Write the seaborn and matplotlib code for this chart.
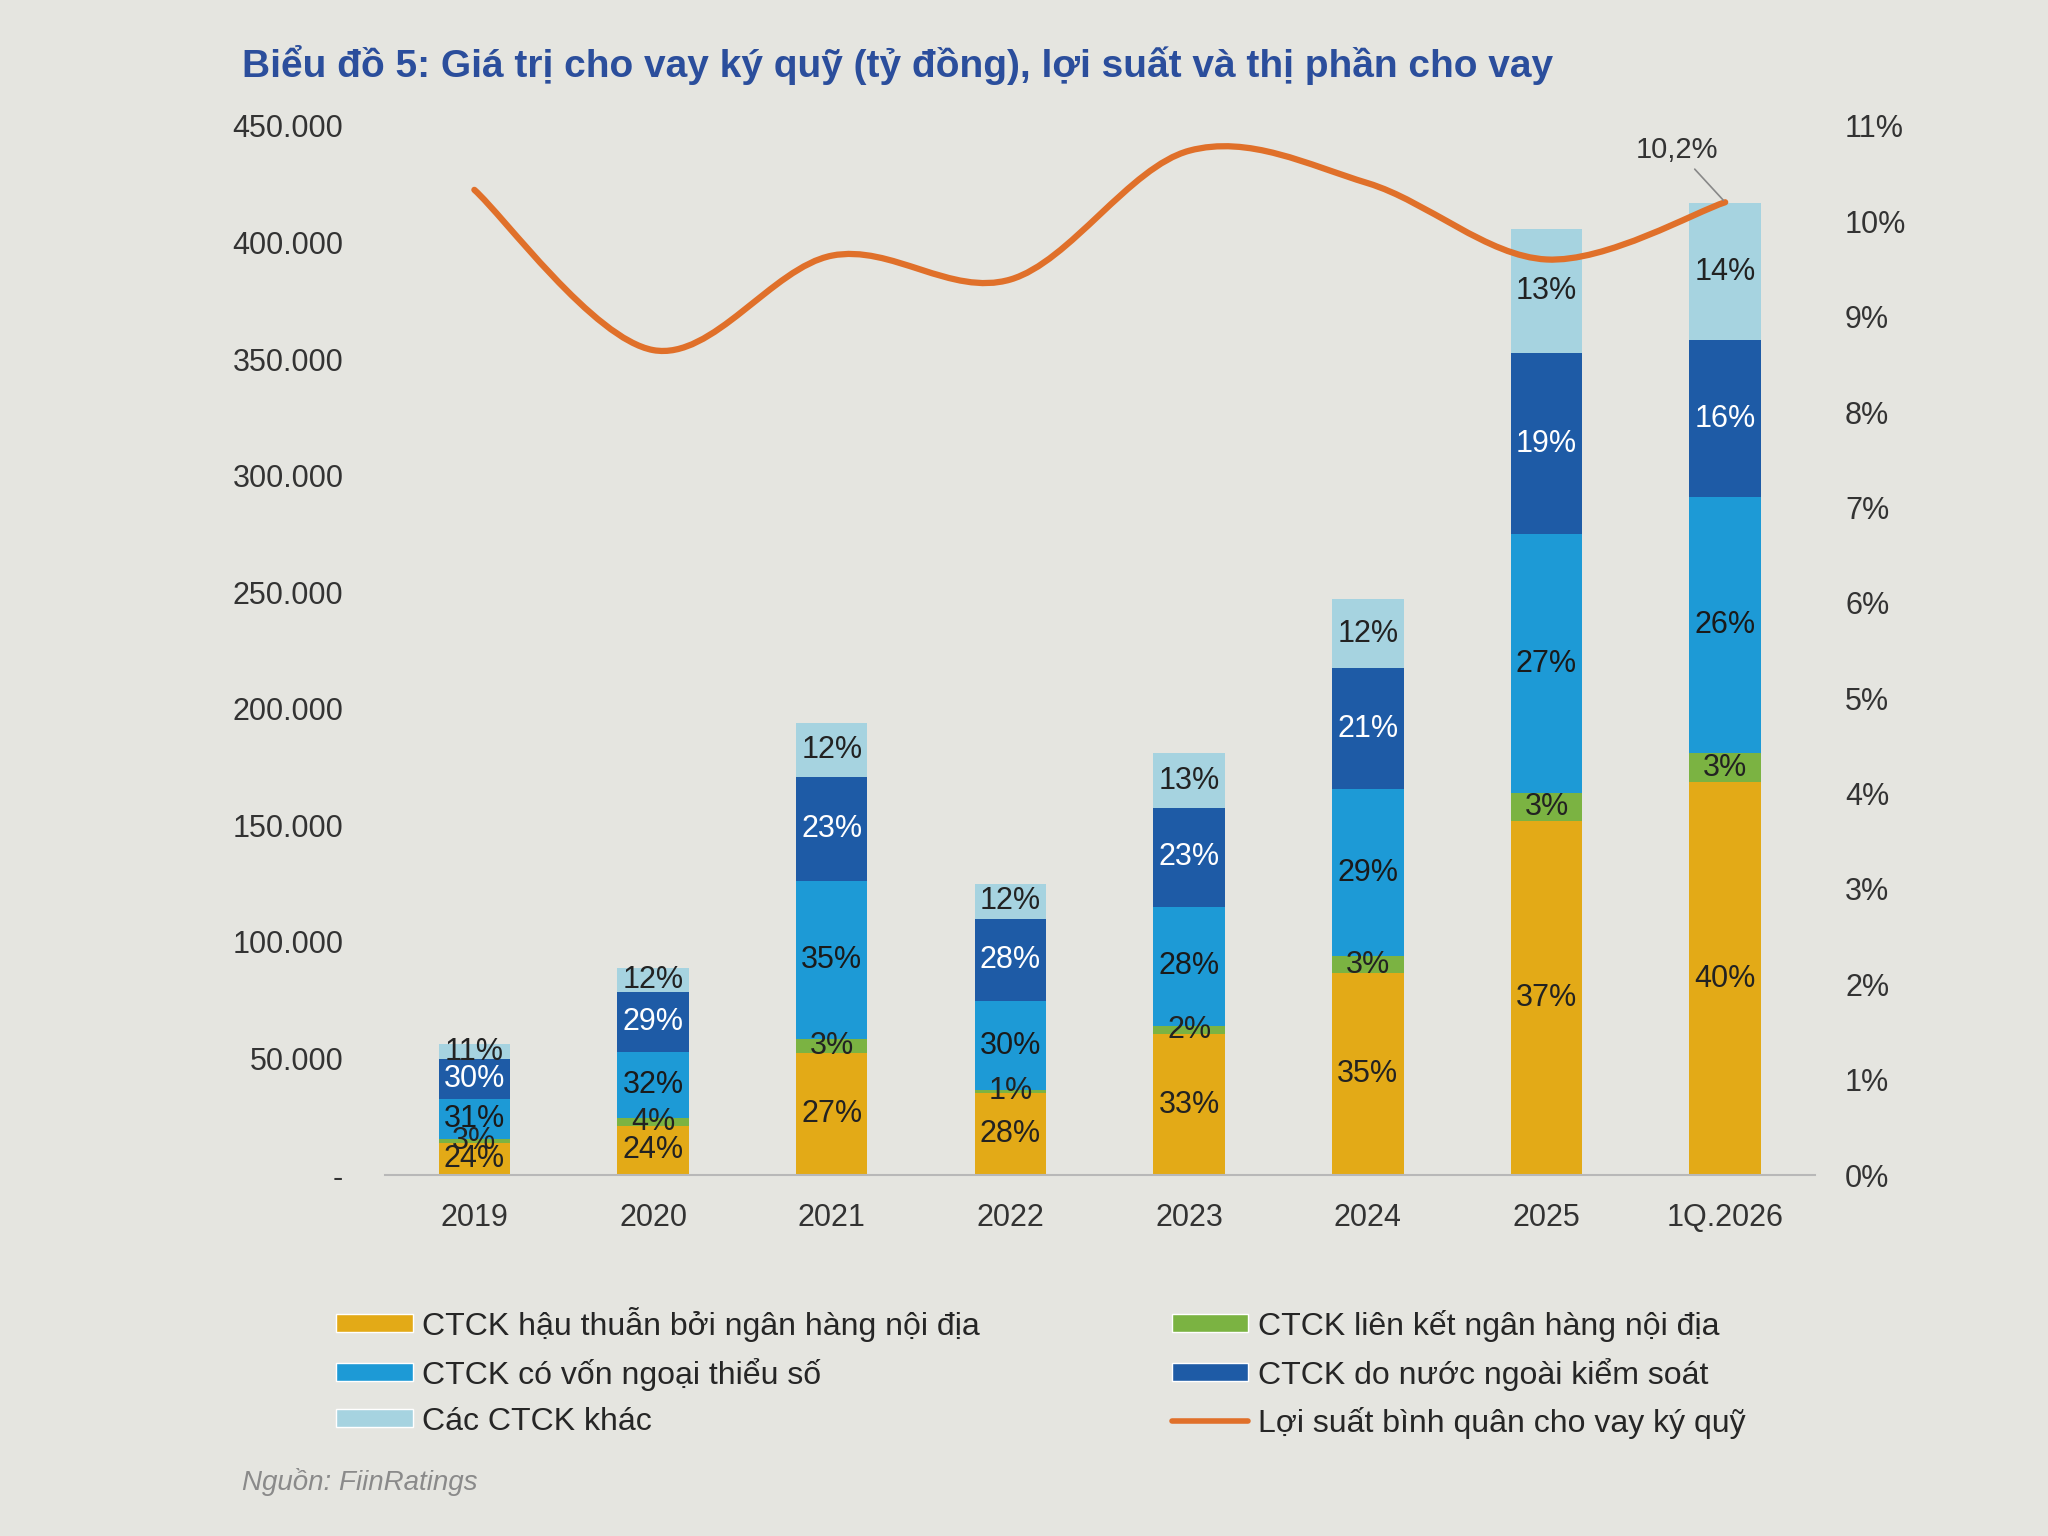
import numpy as np
import pandas as pd
import matplotlib
matplotlib.use("Agg")
import matplotlib.pyplot as plt
from matplotlib.path import Path
from matplotlib.patches import PathPatch
from matplotlib.lines import Line2D
from matplotlib.patches import Patch
import seaborn as sns

# Dữ liệu
periods = ["2019", "2020", "2021", "2022", "2023", "2024", "2025", "1Q.2026"]
totals = [56000, 89000, 194000, 125000, 181000, 247000, 406000, 417000]  # tỷ đồng

share_bank_backed = [24, 24, 27, 28, 33, 35, 37, 40]
share_bank_linked = [3, 4, 3, 1, 2, 3, 3, 3]
share_foreign_minority = [31, 32, 35, 30, 28, 29, 27, 26]
share_foreign_control = [30, 29, 23, 28, 23, 21, 19, 16]
share_other = [11, 12, 12, 12, 13, 12, 13, 14]

margin_yield = [10.33, 8.65, 9.64, 9.39, 10.74, 10.4, 9.6, 10.2]  # %

series_names = [
    "CTCK hậu thuẫn bởi ngân hàng nội địa",
    "CTCK liên kết ngân hàng nội địa",
    "CTCK có vốn ngoại thiểu số",
    "CTCK do nước ngoài kiểm soát",
    "Các CTCK khác",
]
line_name = "Lợi suất bình quân cho vay ký quỹ"

colors = ["#E3AA17", "#7BB342", "#1D9AD6", "#1E5BA6", "#A6D3E0"]
text_colors = ["#222222", "#222222", "#1a1a1a", "white", "#222222"]
line_color = "#E0702A"
bg = "#E5E5E0"

sns.set_theme(style="white")
plt.rcParams["font.family"] = ["Liberation Sans", "DejaVu Sans"]

shares = [share_bank_backed, share_bank_linked, share_foreign_minority,
          share_foreign_control, share_other]
share_sum = np.sum(shares, axis=0)

fig = plt.figure(figsize=(20.48, 15.36), dpi=100, facecolor=bg)
ax = fig.add_axes([0.188, 0.235, 0.698, 0.683], facecolor=bg)

bottom = np.zeros(len(periods))
for name, sh, col, tcol in zip(series_names, shares, colors, text_colors):
    vals = np.array(totals) * np.array(sh) / share_sum
    df = pd.DataFrame({"period": periods, "value": vals})
    sns.barplot(data=df, x="period", y="value", color=col, width=0.4,
                bottom=bottom, saturation=1, ax=ax, linewidth=0)
    for i, (v, s) in enumerate(zip(vals, sh)):
        ax.text(i, bottom[i] + v / 2, f"{s}%", ha="center", va="center",
                fontsize=22, color=tcol)
    bottom = bottom + vals

ax.set_xlim(-0.5, len(periods) - 0.5)
ax.set_ylim(0, 450000)
ax.set_xlabel("")
ax.set_ylabel("")
yt = np.arange(0, 450001, 50000)
ax.set_yticks(yt)
ax.set_yticklabels(["-"] + [f"{v:,.0f}".replace(",", ".") for v in yt[1:]])
ax.tick_params(axis="both", length=0, labelsize=22, colors="#333333")
ax.tick_params(axis="x", pad=20)
ax.tick_params(axis="y", pad=30)
for s in ["top", "right", "left"]:
    ax.spines[s].set_visible(False)
ax.spines["bottom"].set_color("#b8b8b8")
ax.spines["bottom"].set_linewidth(1.5)

# Trục phải: lợi suất
ax2 = ax.twinx()
ax2.set_ylim(0, 11)
ax2.set_yticks(range(0, 12))
ax2.set_yticklabels([f"{v}%" for v in range(0, 12)])
ax2.tick_params(axis="y", length=0, labelsize=22, colors="#333333", pad=22)
for s in ax2.spines.values():
    s.set_visible(False)
ax2.grid(False)
ax.grid(False)

# Đường cong mượt (Catmull-Rom -> Bezier)
xs = np.arange(len(periods), dtype=float)
ys = np.array(margin_yield)
px = np.concatenate([[xs[0]], xs, [xs[-1]]])
py = np.concatenate([[ys[0]], ys, [ys[-1]]])
verts = [(xs[0], ys[0])]
codes = [Path.MOVETO]
for i in range(1, len(px) - 2):
    c1 = (px[i] + (px[i + 1] - px[i - 1]) / 6, py[i] + (py[i + 1] - py[i - 1]) / 6)
    c2 = (px[i + 1] - (px[i + 2] - px[i]) / 6, py[i + 1] - (py[i + 2] - py[i]) / 6)
    verts += [c1, c2, (px[i + 1], py[i + 1])]
    codes += [Path.CURVE4] * 3
ax2.add_patch(PathPatch(Path(verts, codes), facecolor="none",
                        edgecolor=line_color, linewidth=4.5, capstyle="round"))

# Nhãn 10,2%
ax2.annotate("10,2%", xy=(xs[-1], ys[-1]), xytext=(xs[-1] - 0.27, 10.75),
             ha="center", va="center", fontsize=21, color="#333333",
             arrowprops=dict(arrowstyle="-", color="#888888", lw=1.2))

# Tiêu đề và nguồn
fig.text(0.118, 0.958, "Biểu đồ 5: Giá trị cho vay ký quỹ (tỷ đồng), lợi suất và thị phần cho vay",
         ha="left", va="center", fontsize=28, fontweight="bold", color="#2B4E9C")
fig.text(0.118, 0.035, "Nguồn: FiinRatings", ha="left", va="center",
         fontsize=20, style="italic", color="#8a8a8a")

# Chú thích
handles = [
    Patch(facecolor=colors[0], label=series_names[0]),
    Patch(facecolor=colors[2], label=series_names[2]),
    Patch(facecolor=colors[4], label=series_names[4]),
    Patch(facecolor=colors[1], label=series_names[1]),
    Patch(facecolor=colors[3], label=series_names[3]),
    Line2D([0], [0], color=line_color, lw=4, label=line_name),
]
fig.legend(handles=handles, ncol=2, loc="upper left", bbox_to_anchor=(0.150, 0.168),
           frameon=False, fontsize=23, handlelength=2.4, handleheight=0.5,
           handletextpad=0.3, columnspacing=6.0, labelspacing=0.5)

fig.savefig("out.png", dpi=100, facecolor=bg)
